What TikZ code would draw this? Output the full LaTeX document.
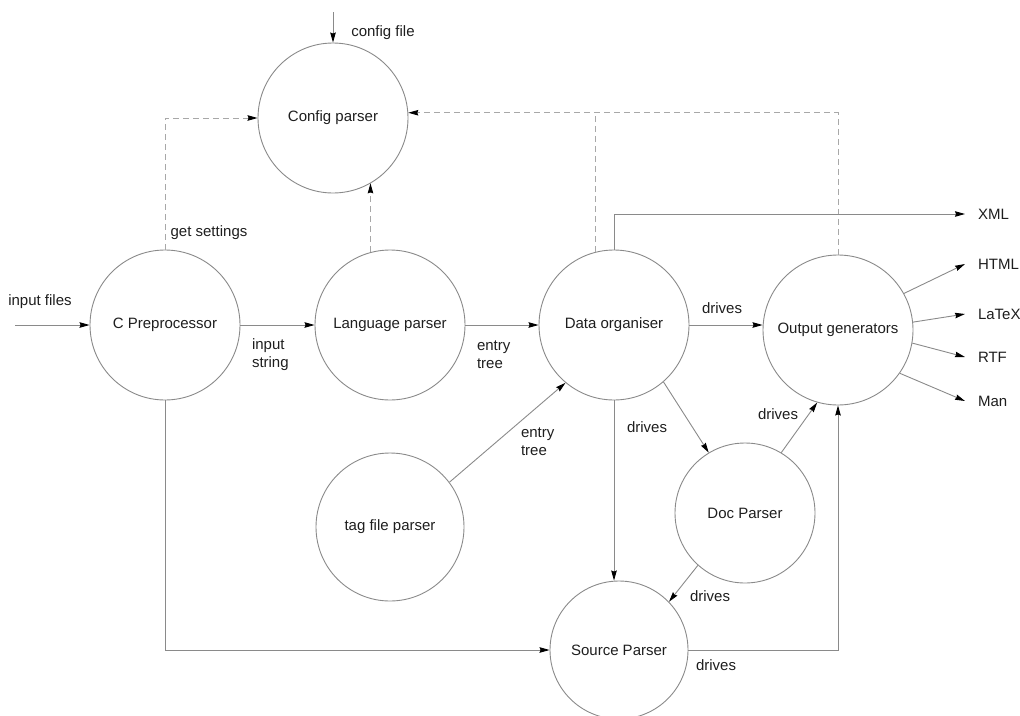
\documentclass[tikz,border=0pt]{standalone}
\usepackage{fontspec}
\setmainfont{Liberation Sans}
\usetikzlibrary{arrows.meta}

\definecolor{edgegray}{HTML}{8A8A8A}
\definecolor{dashgray}{HTML}{A8A8A8}
\definecolor{inkgray}{HTML}{1E1E1E}

\tikzset{
  proc/.style={circle, draw=edgegray, line width=0.9pt, text=inkgray,
    font=\fontsize{15pt}{18pt}\selectfont, inner sep=0pt},
  lbl/.style={text=inkgray, font=\fontsize{15pt}{18pt}\selectfont,
    inner sep=0pt, outer sep=0pt},
  outlbl/.style={lbl, anchor=west, outer xsep=13pt},
  flow/.style={draw=edgegray, line width=0.9pt,
    -{Stealth[length=10pt, width=5.5pt, inset=1pt, color=black]}},
  plain/.style={draw=edgegray, line width=0.9pt},
  cfgflow/.style={draw=dashgray, line width=0.9pt, dash pattern=on 6pt off 4pt,
    -{Stealth[length=10pt, width=5.5pt, inset=1pt, color=black]}},
  cfgline/.style={draw=dashgray, line width=0.9pt, dash pattern=on 6pt off 4pt},
}

\begin{document}
\begin{tikzpicture}[x=1pt, y=-1pt]
  \useasboundingbox (0,0) rectangle (1020,715);

  % processing stages
  \node[proc, minimum size=150pt] (cfg)  at (333,118) {Config parser};
  \node[proc, minimum size=150pt] (cpp)  at (165,325) {C Preprocessor};
  \node[proc, minimum size=150pt] (lang) at (390,325) {Language parser};
  \node[proc, minimum size=150pt] (data) at (614,325) {Data organiser};
  \node[proc, minimum size=150pt] (out)  at (838,330) {Output generators};
  \node[proc, minimum size=148pt] (tag)  at (390,527) {tag file parser};
  \node[proc, minimum size=140pt] (doc)  at (745,513) {Doc Parser};
  \node[proc, minimum size=138pt] (src)  at (619,650) {Source Parser};

  % external inputs
  \coordinate (cfgin) at (333,12);
  \coordinate (filesin) at (15,325);

  % output formats
  \node[outlbl] (xml)   at (965,214) {XML};
  \node[outlbl] (html)  at (965,264) {HTML};
  \node[outlbl] (latex) at (965,314) {LaTeX};
  \node[outlbl] (rtf)   at (965,357) {RTF};
  \node[outlbl] (man)   at (965,401) {Man};

  % configuration access (dashed)
  \draw[cfgflow] (cpp.north) |- (cfg.west);
  \draw[cfgflow] (lang.105) -- (lang.105 |- cfg.-60);
  \draw[cfgline] (data.104) -- (data.104 |- cfg.4);
  \draw[cfgflow] (out.north) |- (cfg.4);

  % main data flow
  \draw[flow] (cfgin) -- (cfg.north);
  \draw[flow] (filesin) -- (cpp.west);
  \draw[flow] (cpp.east) -- (lang.west);
  \draw[flow] (lang.east) -- (data.west);
  \draw[flow] (data.east) -- (data.east -| out.west);
  \draw[flow] (tag.37) -- (data.-130);
  \draw[flow] (data.south) -- (data.south |- src.north);
  \draw[flow] (data.-49) -- (doc.121);
  \draw[flow] (doc.59) -- (out.-106);
  \draw[flow] (doc.-132) -- (src.44);
  \draw[flow] (src.east) -| (out.south);
  \draw[flow] (cpp.south) |- (src.west);
  \draw[flow] (data.north) |- (xml.west);
  \draw[flow] (out.29) -- (html.west);
  \draw[flow] (out.6) -- (latex.west);
  \draw[flow] (out.-10) -- (rtf.west);
  \draw[flow] (out.-35) -- (man.west);

  % connector labels
  \node[lbl] (lcfg)   at (383,33)  {config file};
  \node[lbl] (lget)   at (209,233) {get settings};
  \node[lbl] (lfiles) at (40,302)  {input files};
  \node[lbl, anchor=west, align=left] (lstr)  at (252,355) {input\\string};
  \node[lbl, anchor=west, align=left] (ltree) at (477,355) {entry\\tree};
  \node[lbl, anchor=west, align=left] (ltag)  at (521,442) {entry\\tree};
  \node[lbl] (ldrv1) at (722,308) {drives};
  \node[lbl] (ldrv2) at (647,427) {drives};
  \node[lbl] (ldrv3) at (778,414) {drives};
  \node[lbl] (ldrv4) at (710,596) {drives};
  \node[lbl] (ldrv5) at (716,665) {drives};
\end{tikzpicture}
\end{document}
